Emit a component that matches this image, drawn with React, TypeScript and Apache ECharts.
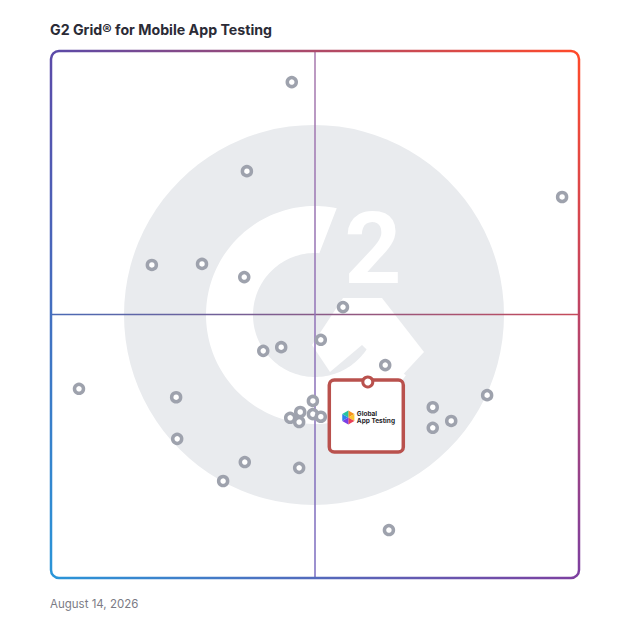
import React, { useEffect, useRef } from "react";
import * as echarts from "echarts";

const TITLE = "G2 Grid® for Mobile App Testing";
const DATE_LABEL = "August 14, 2026";
const HIGHLIGHT_LINES = ["Global", "App Testing"];

// Satisfaction (x) and Market Presence (y), 0–100 scale
const satisfaction = [45.6, 37.1, 96.8, 19.1, 28.6, 36.6, 55.3, 51.1, 43.6, 40.2, 63.3, 5.3, 23.7, 49.6, 82.6, 72.3, 75.8, 72.3, 23.9, 47.2, 45.3, 47.0, 49.6, 51.1, 36.7, 32.6, 47.0, 64.0];
const marketPresence = [94.1, 77.2, 72.3, 59.4, 59.6, 57.1, 51.4, 45.2, 43.8, 43.1, 40.4, 35.9, 34.3, 33.6, 34.7, 32.4, 29.8, 28.5, 26.4, 31.5, 30.4, 29.6, 31.1, 30.6, 22.0, 18.4, 20.9, 9.1];
const highlightSatisfaction = [60.0];
const highlightMarketPresence = [37.2];
const axisMin = 0;
const axisMax = 100;
const quadrantSplit = 50;

const GRID = { left: 51, top: 51, width: 528, height: 527 };
const POINT_GRAY = "#9ea2ad";
const BOX_RED = "#b9514d";
const LOGO_GRAY = "#e9ebee";

export default function App() {
  const ref = useRef<HTMLDivElement>(null);
  useEffect(() => {
    if (!ref.current) return;
    const chart = echarts.init(ref.current, undefined, { renderer: "svg" });
    const points = satisfaction.map((x, i) => [x, marketPresence[i]]);
    const highlight = highlightSatisfaction.map((x, i) => [x, highlightMarketPresence[i]]);

    chart.setOption({
      animation: false,
      grid: { ...GRID, containLabel: false },
      xAxis: { type: "value", min: axisMin, max: axisMax, show: false },
      yAxis: { type: "value", min: axisMin, max: axisMax, show: false },
      series: [
        {
          type: "scatter",
          data: points,
          symbol: "circle",
          symbolSize: 9,
          z: 3,
          itemStyle: { color: "#ffffff", borderColor: POINT_GRAY, borderWidth: 3.5, opacity: 1 },
          emphasis: { disabled: true },
        },
        {
          type: "custom",
          data: highlight,
          z: 5,
          renderItem: (params: any, api: any) => {
            const p = api.coord([api.value(0), api.value(1)]);
            const x = p[0];
            const y = p[1];
            const hx = x - 19.5;
            const hy = y + 35.5;
            const hr = 7;
            const cols = ["#f7941d", "#fbc531", "#e94057", "#7b3fe4", "#2f80ed", "#27c4a0"];
            const hexParts = cols.map((c, k) => {
              const a1 = ((-90 + 60 * k) * Math.PI) / 180;
              const a2 = ((-30 + 60 * k) * Math.PI) / 180;
              return {
                type: "polygon",
                shape: {
                  points: [
                    [hx, hy],
                    [hx + hr * Math.cos(a1), hy + hr * Math.sin(a1)],
                    [hx + hr * Math.cos(a2), hy + hr * Math.sin(a2)],
                  ],
                },
                style: { fill: c },
              };
            });
            return {
              type: "group",
              children: [
                {
                  type: "rect",
                  shape: { x: x - 38.5, y: y - 2, width: 74, height: 72, r: 5 },
                  style: { fill: "#ffffff", stroke: BOX_RED, lineWidth: 3.5 },
                },
                {
                  type: "circle",
                  shape: { cx: x, cy: y, r: 5 },
                  style: { fill: "#ffffff", stroke: BOX_RED, lineWidth: 3 },
                },
                ...hexParts,
                {
                  type: "text",
                  x: x - 11,
                  y: y + 32,
                  style: { text: HIGHLIGHT_LINES[0], fill: "#1f1f2a", font: "bold 6.5px Inter", verticalAlign: "middle" },
                },
                {
                  type: "text",
                  x: x - 11,
                  y: y + 39,
                  style: { text: HIGHLIGHT_LINES[1], fill: "#1f1f2a", font: "bold 6.5px Inter", verticalAlign: "middle" },
                },
              ],
            };
          },
        },
      ],
    });

    // grid geometry in pixels
    const x0 = GRID.left;
    const x1 = GRID.left + GRID.width;
    const y0 = GRID.top;
    const y1 = GRID.top + GRID.height;
    const mid = chart.convertToPixel({ gridIndex: 0 }, [quadrantSplit, quadrantSplit]) as number[];
    const mx = mid[0];
    const my = mid[1];
    const rad = 8;
    const TL = "#5b4aa8";
    const TR = "#ff4a2a";
    const BR = "#7d40a0";
    const BL = "#2a95d8";
    const lg = (ax: number, ay: number, bx: number, by: number, c1: string, c2: string) =>
      new echarts.graphic.LinearGradient(ax, ay, bx, by, [
        { offset: 0, color: c1 },
        { offset: 1, color: c2 },
      ], true);

    // G2 logo geometry (background decoration)
    const cx = 315;
    const cy = 315;
    const R = 109;
    const r = 62;
    const ring: number[][] = [];
    for (let a = -78.5; a >= -328; a -= 2) {
      const t = (a * Math.PI) / 180;
      ring.push([cx + R * Math.cos(t), cy + R * Math.sin(t)]);
    }
    for (let a = -328; a <= -85.5; a += 2) {
      const t = (a * Math.PI) / 180;
      ring.push([cx + r * Math.cos(t), cy + r * Math.sin(t)]);
    }
    const bw = 2.5;
    const lineW = 1.5;

    chart.setOption({
      graphic: [
        { type: "circle", shape: { cx: 314, cy: 315, r: 190 }, style: { fill: LOGO_GRAY }, z: 0, silent: true },
        { type: "polygon", shape: { points: ring }, style: { fill: "#ffffff" }, z: 0, silent: true },
        {
          type: "polygon",
          shape: { points: [[343, 298], [382, 298], [424, 352], [398, 380], [362, 345], [330, 372], [312, 345]] },
          style: { fill: "#ffffff" },
          z: 0,
          silent: true,
        },
        {
          type: "text",
          x: 373,
          y: 298,
          style: { text: "2", fill: "#ffffff", font: "bold 100px Roboto", align: "center", verticalAlign: "bottom" },
          z: 0,
          silent: true,
        },
        // quadrant lines
        { type: "line", shape: { x1: x0, y1: my, x2: x1, y2: my }, style: { stroke: lg(x0, my, x1, my, "#4a6ab5", "#c64a5a"), lineWidth: lineW }, z: 1, silent: true },
        { type: "line", shape: { x1: mx, y1: y0, x2: mx, y2: y1 }, style: { stroke: lg(mx, y0, mx, y1, "#a879ad", "#7a6cc0"), lineWidth: lineW }, z: 1, silent: true },
        // border
        { type: "line", shape: { x1: x0 + rad, y1: y0, x2: x1 - rad, y2: y0 }, style: { stroke: lg(x0, y0, x1, y0, TL, TR), lineWidth: bw }, z: 2, silent: true },
        { type: "line", shape: { x1: x1, y1: y0 + rad, x2: x1, y2: y1 - rad }, style: { stroke: lg(x1, y0, x1, y1, TR, BR), lineWidth: bw }, z: 2, silent: true },
        { type: "line", shape: { x1: x0 + rad, y1: y1, x2: x1 - rad, y2: y1 }, style: { stroke: lg(x0, y1, x1, y1, BL, BR), lineWidth: bw }, z: 2, silent: true },
        { type: "line", shape: { x1: x0, y1: y0 + rad, x2: x0, y2: y1 - rad }, style: { stroke: lg(x0, y0, x0, y1, TL, BL), lineWidth: bw }, z: 2, silent: true },
        { type: "arc", shape: { cx: x0 + rad, cy: y0 + rad, r: rad, startAngle: Math.PI, endAngle: Math.PI * 1.5 }, style: { stroke: TL, lineWidth: bw, fill: "none" }, z: 2, silent: true },
        { type: "arc", shape: { cx: x1 - rad, cy: y0 + rad, r: rad, startAngle: -Math.PI / 2, endAngle: 0 }, style: { stroke: TR, lineWidth: bw, fill: "none" }, z: 2, silent: true },
        { type: "arc", shape: { cx: x1 - rad, cy: y1 - rad, r: rad, startAngle: 0, endAngle: Math.PI / 2 }, style: { stroke: BR, lineWidth: bw, fill: "none" }, z: 2, silent: true },
        { type: "arc", shape: { cx: x0 + rad, cy: y1 - rad, r: rad, startAngle: Math.PI / 2, endAngle: Math.PI }, style: { stroke: BL, lineWidth: bw, fill: "none" }, z: 2, silent: true },
        // texts
        {
          type: "text",
          x: 50,
          y: 29,
          style: { text: TITLE, fill: "#2b2b36", font: "bold 14.2px Inter", verticalAlign: "middle" },
          z: 2,
          silent: true,
        },
        {
          type: "text",
          x: 50,
          y: 604,
          style: { text: DATE_LABEL, fill: "#7b7b85", font: "11.5px Inter", verticalAlign: "middle" },
          z: 2,
          silent: true,
        },
      ],
    });

    return () => chart.dispose();
  }, []);

  return <div ref={ref} style={{ position: "fixed", left: 0, top: 0, width: 628, height: 628, background: "#ffffff" }} />;
}
